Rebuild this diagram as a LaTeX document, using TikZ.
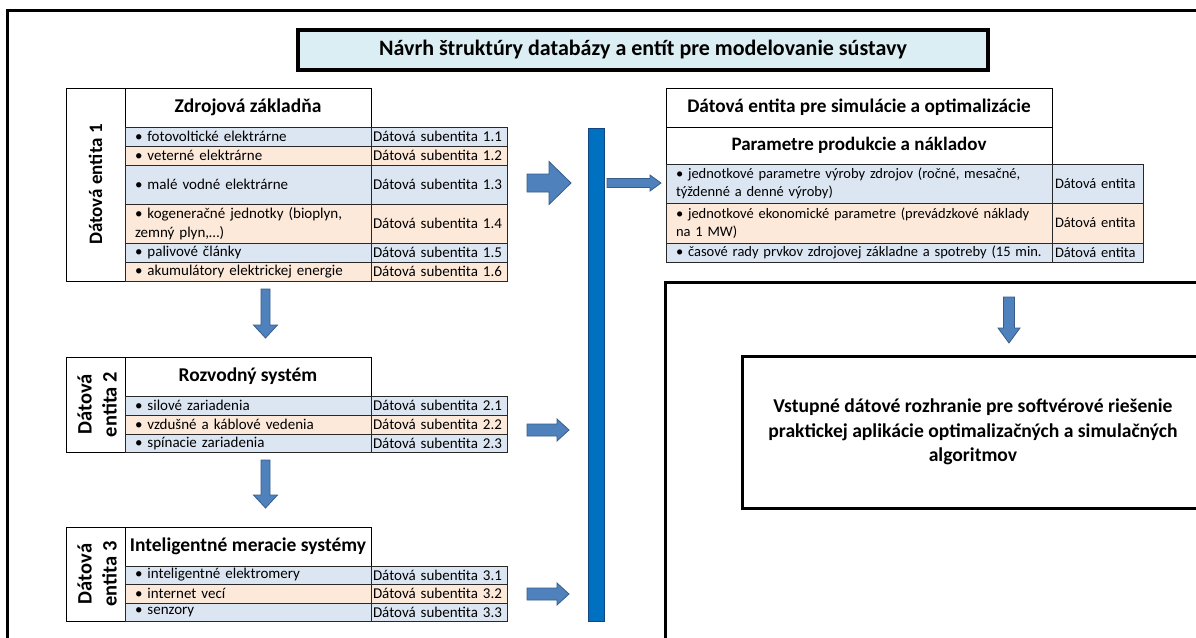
\documentclass[tikz,border=0pt]{standalone}
\usepackage{fontspec}
\setmainfont{Carlito}
\definecolor{rowblue}{RGB}{220,230,242}
\definecolor{roworange}{RGB}{253,233,217}
\definecolor{titlefill}{RGB}{218,238,243}
\definecolor{arrowblue}{RGB}{79,129,189}
\definecolor{arrowedge}{RGB}{56,93,138}
\definecolor{barblue}{RGB}{0,112,192}
\definecolor{baredge}{RGB}{20,70,130}
\definecolor{cellline}{RGB}{40,40,40}

% horizontal block arrow: x start, x head start, x tip, y centre, shaft half, head half
\newcommand{\blockright}[6]{\filldraw[blockarrow] (#1,#4-#5) -- (#2,#4-#5) -- (#2,#4-#6) -- (#3,#4) -- (#2,#4+#6) -- (#2,#4+#5) -- (#1,#4+#5) -- cycle;}
% vertical block arrow: x centre, y start, y head start, y tip, shaft half, head half
\newcommand{\blockdown}[6]{\filldraw[blockarrow] (#1-#5,#2) -- (#1+#5,#2) -- (#1+#5,#3) -- (#1+#6,#3) -- (#1,#4) -- (#1-#6,#3) -- (#1-#5,#3) -- cycle;}

\begin{document}
\begin{tikzpicture}[x=1pt,y=-1pt,
  frame/.style={draw=black, line width=3pt, inner sep=0pt, outer sep=0pt, anchor=north west},
  titlebox/.style={draw=black, line width=3.5pt, fill=titlefill, inner sep=0pt, outer sep=0pt,
    font=\fontsize{22}{26}\selectfont\bfseries},
  labcol/.style={draw=black, line width=0.8pt, fill=white, inner sep=0pt, outer sep=0pt, anchor=north west},
  vlabel/.style={rotate=90, align=center, inner sep=0pt, font=\fontsize{19}{22}\selectfont\bfseries},
  vlabeltwo/.style={vlabel, font=\fontsize{20.5}{25}\selectfont\bfseries},
  headcell/.style={draw=black, line width=0.8pt, fill=white, inner sep=0pt, outer sep=0pt, anchor=north west,
    font=\fontsize{19.5}{22}\selectfont\bfseries},
  item/.style={draw=cellline, line width=1pt, inner xsep=10pt, inner ysep=0pt, outer sep=0pt, anchor=north west,
    align=left, text width=226pt, minimum height=19pt, font=\fontsize{15}{19}\selectfont},
  sub/.style={draw=cellline, line width=1pt, inner xsep=2pt, inner ysep=0pt, outer sep=0pt, anchor=north west,
    align=left, text width=132pt, minimum height=19pt, font=\fontsize{15}{19}\selectfont},
  ritem/.style={item, text width=366pt, font=\fontsize{14.5}{18}\selectfont},
  rsub/.style={sub, inner xsep=3pt, text width=85pt, font=\fontsize{14.5}{18}\selectfont},
  blockarrow/.style={fill=arrowblue, draw=arrowedge, line width=0.8pt},
  bar/.style={fill=barblue, draw=baredge, line width=0.8pt, inner sep=0pt, outer sep=0pt, anchor=north west},
  bigtext/.style={align=center, font=\fontsize{19.6}{24.5}\selectfont\bfseries}
]
\useasboundingbox (0,0) rectangle (1196,637);
\clip (0,0) rectangle (1196,637);
\fill[white] (0,0) rectangle (1196,637);

% page frame
\node[frame, minimum width=1230pt, minimum height=650pt] (page) at (7.5,10) {};

% title
\node[titlebox, minimum width=690pt, minimum height=40pt] (title) at (643,50)
  {Návrh štruktúry databázy a entít pre modelovanie sústavy};

% ---------- entity 1 ----------
\node[labcol, minimum width=59pt, minimum height=193pt] (e1) at (66,88) {};
\node[vlabel] (e1t) at (e1.center) {Dátová entita 1};
\node[headcell, minimum width=246pt, minimum height=39pt] (h1) at (125,88) {Zdrojová základňa};
\node[item, fill=rowblue] (r11) at (125,127) {• fotovoltické elektrárne};
\node[sub, fill=rowblue] (s11) at (371,127) {Dátová subentita 1.1};
\node[item, fill=roworange] (r12) at (125,146) {• veterné elektrárne};
\node[sub, fill=roworange] (s12) at (371,146) {Dátová subentita 1.2};
\node[item, fill=rowblue, minimum height=39pt] (r13) at (125,165) {• malé vodné elektrárne};
\node[sub, fill=rowblue, minimum height=39pt] (s13) at (371,165) {Dátová subentita 1.3};
\node[item, fill=roworange, minimum height=39pt] (r14) at (125,204) {• kogeneračné jednotky (bioplyn,\\zemný plyn,…)};
\node[sub, fill=roworange, minimum height=39pt] (s14) at (371,204) {Dátová subentita 1.4};
\node[item, fill=rowblue] (r15) at (125,243) {• palivové články};
\node[sub, fill=rowblue] (s15) at (371,243) {Dátová subentita 1.5};
\node[item, fill=roworange] (r16) at (125,262) {• akumulátory elektrickej energie};
\node[sub, fill=roworange] (s16) at (371,262) {Dátová subentita 1.6};

% ---------- entity 2 ----------
\node[labcol, minimum width=59pt, minimum height=95pt] (e2) at (66,357) {};
\node[vlabeltwo] (e2t) at ([xshift=1.5pt]e2.center) {Dátová\\entita 2};
\node[headcell, minimum width=246pt, minimum height=39pt] (h2) at (125,357) {Rozvodný systém};
\node[item, fill=rowblue] (r21) at (125,396) {• silové zariadenia};
\node[sub, fill=rowblue] (s21) at (371,396) {Dátová subentita 2.1};
\node[item, fill=roworange] (r22) at (125,415) {• vzdušné a káblové vedenia};
\node[sub, fill=roworange] (s22) at (371,415) {Dátová subentita 2.2};
\node[item, fill=rowblue, minimum height=18pt] (r23) at (125,434) {• spínacie zariadenia};
\node[sub, fill=rowblue, minimum height=18pt] (s23) at (371,434) {Dátová subentita 2.3};

% ---------- entity 3 ----------
\node[labcol, minimum width=59pt, minimum height=94pt] (e3) at (66,527) {};
\node[vlabeltwo] (e3t) at ([xshift=1.5pt]e3.center) {Dátová\\entita 3};
\node[headcell, minimum width=246pt, minimum height=39pt] (h3) at (125,527) {Inteligentné meracie systémy};
\node[item, fill=rowblue, minimum height=18pt] (r31) at (125,566) {• inteligentné elektromery};
\node[sub, fill=rowblue, minimum height=18pt] (s31) at (371,566) {Dátová subentita 3.1};
\node[item, fill=roworange] (r32) at (125,584) {• internet vecí};
\node[sub, fill=roworange] (s32) at (371,584) {Dátová subentita 3.2};
\node[item, fill=rowblue, minimum height=18pt] (r33) at (125,603) {• senzory};
\node[sub, fill=rowblue, minimum height=18pt] (s33) at (371,603) {Dátová subentita 3.3};

% ---------- collecting bar ----------
\node[bar, minimum width=16pt, minimum height=493pt] (bar) at (588,128) {};

% ---------- simulation / optimisation entity ----------
\node[headcell, minimum width=386pt, minimum height=39pt, font=\fontsize{19.3}{22}\selectfont\bfseries] (sh1) at (666,88)
  {Dátová entita pre simulácie a optimalizácie};
\node[headcell, minimum width=386pt, minimum height=37pt, font=\fontsize{19}{22}\selectfont\bfseries] (sh2) at (666,127) {Parametre produkcie a nákladov};
\node[ritem, fill=rowblue, minimum height=39pt] (sr1) at (666,164)
  {• jednotkové parametre výroby zdrojov (ročné, mesačné,\\týždenné a denné výroby)};
\node[rsub, fill=rowblue, minimum height=39pt] (ss1) at (1052,164) {Dátová entita};
\node[ritem, fill=roworange, minimum height=40pt] (sr2) at (666,203)
  {• jednotkové ekonomické parametre (prevádzkové náklady\\na 1 MW)};
\node[rsub, fill=roworange, minimum height=40pt] (ss2) at (1052,203) {Dátová entita};
\node[ritem, fill=rowblue, minimum height=19pt] (sr3) at (666,243)
  {• časové rady prvkov zdrojovej základne a spotreby (15 min.};
\node[rsub, fill=rowblue, minimum height=19pt] (ss3) at (1052,243) {Dátová entita};

% ---------- software interface ----------
\node[frame, minimum width=560pt, minimum height=380pt] (outbox) at (665,282) {};
\node[frame, minimum width=462pt, minimum height=152pt] (iface) at (742,356) {};
\node[bigtext] (ifacet) at (iface.center)
  {Vstupné dátové rozhranie pre softvérové riešenie\\praktickej aplikácie optimalizačných a simulačných\\algoritmov};

% ---------- block arrows ----------
\blockright{527}{549}{571}{183}{9}{21.5}
\blockright{527}{557}{569}{430}{6}{11}
\blockright{527}{557}{569}{594}{6}{11}
\blockright{607}{650}{661}{183}{4.5}{8}
\blockdown{265.5}{289}{325}{338}{4.5}{12}
\blockdown{265.5}{460}{495}{508}{4.5}{12}
\blockdown{1009}{297}{328}{343}{5.5}{11}
\end{tikzpicture}
\end{document}
